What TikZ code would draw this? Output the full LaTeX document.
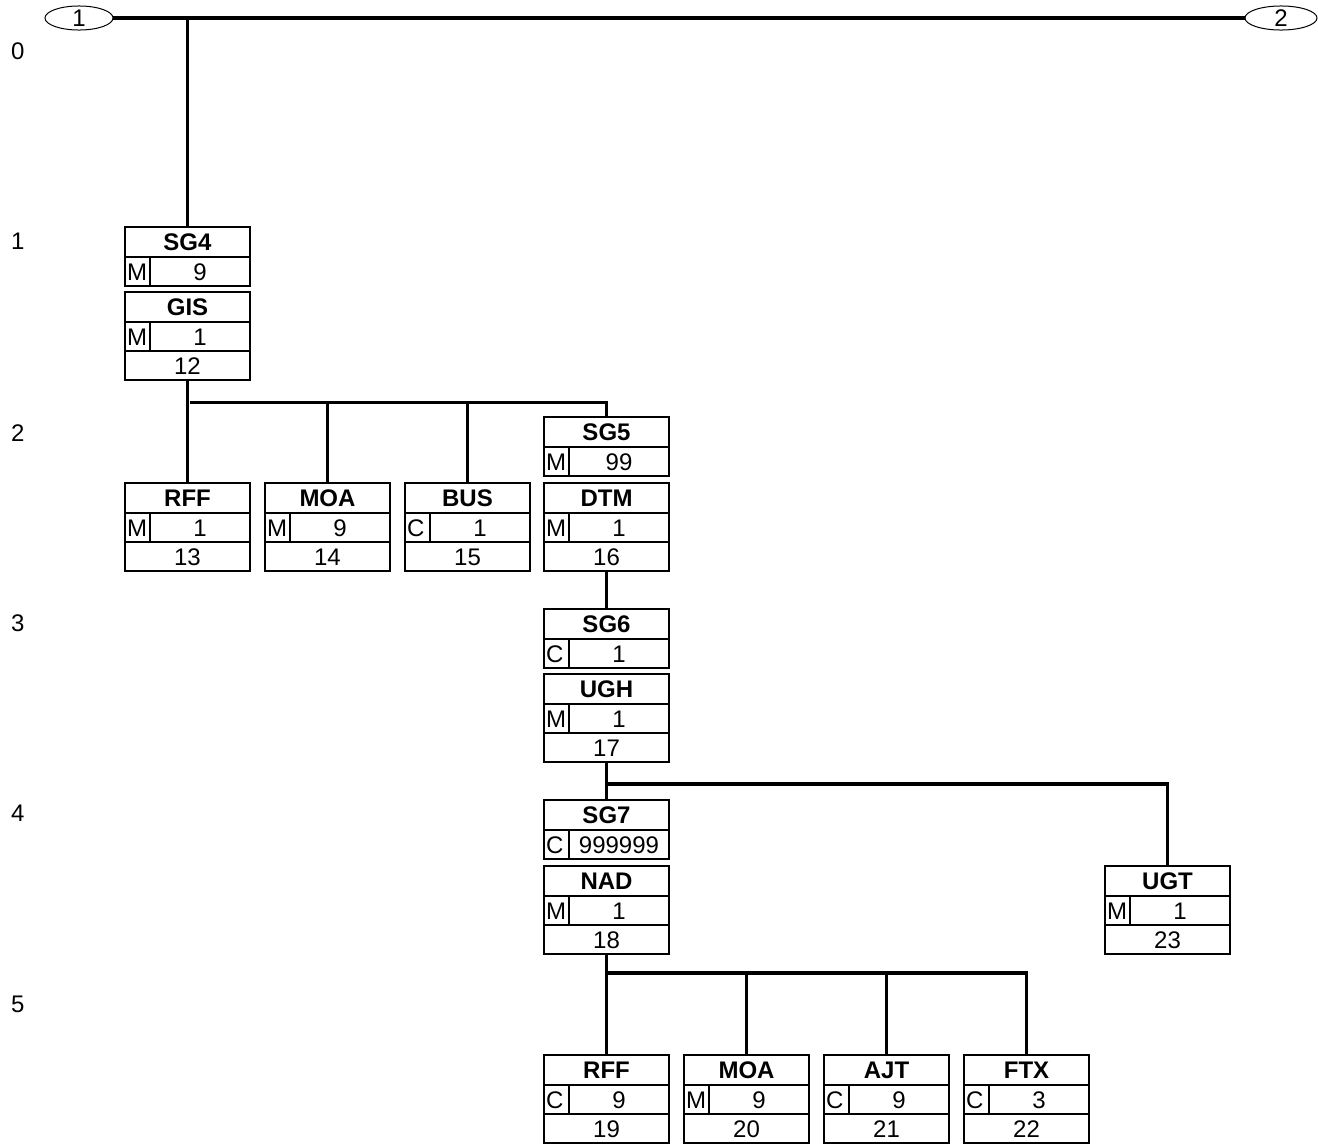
\documentclass[tikz,border=0pt]{standalone}
\usepackage{fontspec}
\setmainfont{Liberation Sans}
\usetikzlibrary{shapes.geometric}
\tikzset{
  txt/.style={inner sep=0pt, outer sep=0pt, text height=17pt, text depth=0pt},
  boxframe/.style={draw, line width=2pt, inner sep=0pt, outer sep=0pt, minimum width=125pt, anchor=north west},
  boxline/.style={line width=2pt},
  conn/.style={line width=3.5pt},
  term/.style={draw, ellipse, line width=1pt, inner sep=0pt, minimum height=24pt, txt}
}
% #1 name, #2 x, #3 y, #4 title, #5 status, #6 repetition
\newcommand\grpbox[6]{%
  \node[boxframe, minimum height=59pt] (#1) at (#2,#3) {};
  \draw[boxline] (#2,{#3+30}) -- ({#2+125},{#3+30});
  \draw[boxline] ({#2+25},{#3+30}) -- ({#2+25},{#3+59});
  \node[txt, font=\bfseries] (#1-t) at ({#2+62.5},{#3+15}) {#4};
  \node[txt, anchor=west] (#1-s) at ({#2+2},{#3+44.5}) {#5};
  \node[txt] (#1-r) at ({#2+75},{#3+44.5}) {#6};
}
% #1 name, #2 x, #3 y, #4 title, #5 status, #6 repetition, #7 number
\newcommand\segbox[7]{%
  \node[boxframe, minimum height=88pt] (#1) at (#2,#3) {};
  \draw[boxline] (#2,{#3+30}) -- ({#2+125},{#3+30});
  \draw[boxline] (#2,{#3+59}) -- ({#2+125},{#3+59});
  \draw[boxline] ({#2+25},{#3+30}) -- ({#2+25},{#3+59});
  \node[txt, font=\bfseries] (#1-t) at ({#2+62.5},{#3+15}) {#4};
  \node[txt, anchor=west] (#1-s) at ({#2+2},{#3+44.5}) {#5};
  \node[txt] (#1-r) at ({#2+75},{#3+44.5}) {#6};
  \node[txt] (#1-n) at ({#2+62.5},{#3+73.5}) {#7};
}
\begin{document}
\begin{tikzpicture}[x=1pt,y=-1pt]
\fontsize{24}{28}\selectfont
\useasboundingbox (0,0) rectangle (1318,1144);
% level labels
\node[txt, anchor=west] (l0) at (11,51) {0};
\node[txt, anchor=west] (l1) at (11,241) {1};
\node[txt, anchor=west] (l2) at (11,433) {2};
\node[txt, anchor=west] (l3) at (11,623) {3};
\node[txt, anchor=west] (l4) at (11,813) {4};
\node[txt, anchor=west] (l5) at (11,1004) {5};
% terminators
\node[term, minimum width=68pt] (o1) at (79,18) {1};
\node[term, minimum width=72pt] (o2) at (1281,18) {2};
% boxes
\grpbox{sg4}{125}{227}{SG4}{M}{9}
\segbox{gis}{125}{292}{GIS}{M}{1}{12}
\segbox{rff1}{125}{483}{RFF}{M}{1}{13}
\segbox{moa1}{265}{483}{MOA}{M}{9}{14}
\segbox{bus}{405}{483}{BUS}{C}{1}{15}
\grpbox{sg5}{544}{417}{SG5}{M}{99}
\segbox{dtm}{544}{483}{DTM}{M}{1}{16}
\grpbox{sg6}{544}{609}{SG6}{C}{1}
\segbox{ugh}{544}{674}{UGH}{M}{1}{17}
\grpbox{sg7}{544}{800}{SG7}{C}{999999}
\segbox{nad}{544}{866}{NAD}{M}{1}{18}
\segbox{ugt}{1105}{866}{UGT}{M}{1}{23}
\segbox{rff2}{544}{1055}{RFF}{C}{9}{19}
\segbox{moa2}{684}{1055}{MOA}{M}{9}{20}
\segbox{ajt}{824}{1055}{AJT}{C}{9}{21}
\segbox{ftx}{964}{1055}{FTX}{C}{3}{22}
% connectors
\draw[conn] (o1.east) -- (o2.west);
\draw[conn] (sg4.north) -- (sg4.north |- o1.east);
\coordinate (b2) at (190,402.5);
\draw[conn] (gis.south) -- (rff1.north);
\draw[conn] (b2) -| (sg5.north);
\draw[conn] (b2 -| moa1.north) -- (moa1.north);
\draw[conn] (b2 -| bus.north) -- (bus.north);
\draw[conn] (dtm.south) -- (sg6.north);
\coordinate (b4) at (608,784);
\draw[conn] (ugh.south) -- (sg7.north);
\draw[conn] (b4) -| (ugt.north);
\coordinate (b5) at (608,973);
\draw[conn] (nad.south) -- (rff2.north);
\draw[conn] (b5) -| (ftx.north);
\draw[conn] (b5 -| moa2.north) -- (moa2.north);
\draw[conn] (b5 -| ajt.north) -- (ajt.north);
\end{tikzpicture}
\end{document}
